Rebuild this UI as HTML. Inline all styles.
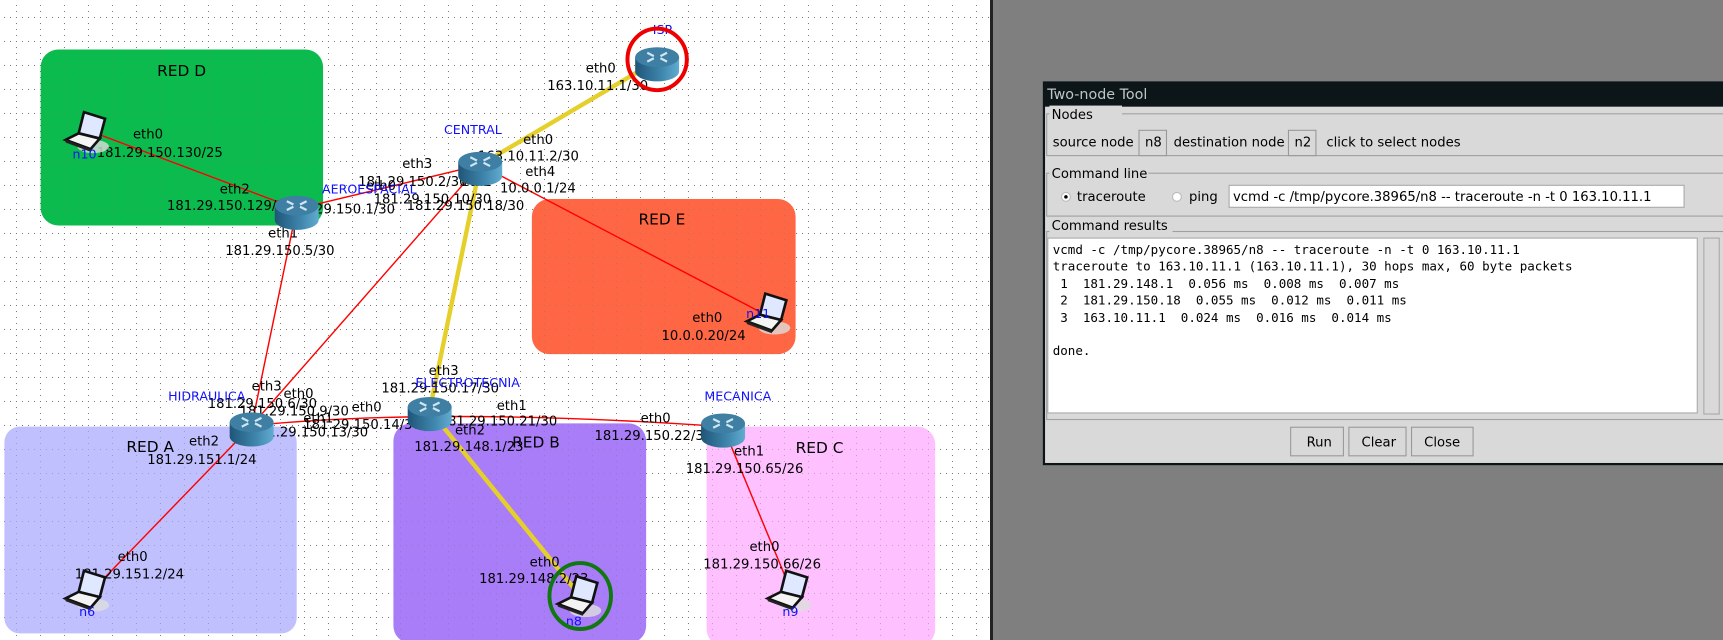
<!DOCTYPE html>
<html><head><meta charset="utf-8"><style>
html,body{margin:0;padding:0;width:1723px;height:640px;overflow:hidden;background:#7f7f7f}
svg{display:block}
.l{font-family:"DejaVu Sans","Liberation Sans",sans-serif;font-size:12px;fill:#000}
.b{font-family:"DejaVu Sans","Liberation Sans",sans-serif;font-size:11.5px;fill:#1010ff}
.r{font-family:"DejaVu Sans","Liberation Sans",sans-serif;font-size:14px;fill:#000}
.d{font-family:"DejaVu Sans","Liberation Sans",sans-serif;font-size:12px;fill:#000}
.m{font-family:"DejaVu Sans Mono","Liberation Mono",monospace;font-size:11.4px;fill:#000;white-space:pre}
</style></head><body>
<svg width="1723" height="640" viewBox="0 0 1723 640" xmlns="http://www.w3.org/2000/svg">
<defs>
<pattern id="g" x="16" y="17" width="24" height="24" patternUnits="userSpaceOnUse">
<line x1="0" y1="0.5" x2="24" y2="0.5" stroke="#777" stroke-width="1" stroke-dasharray="1,5"/>
<line x1="0.5" y1="0" x2="0.5" y2="24" stroke="#777" stroke-width="1" stroke-dasharray="1,5"/>
</pattern>
<linearGradient id="rs" x1="0" x2="1"><stop offset="0" stop-color="#1f5578"/><stop offset="0.6" stop-color="#3f86ad"/><stop offset="1" stop-color="#62acd0"/></linearGradient>
<g id="rt">
<path d="M-20,-5 L-20,8 A20,9 0 0 0 20,8 L20,-5 Z" fill="url(#rs)"/>
<ellipse cx="0" cy="-5" rx="20" ry="9" fill="#3e7fa3"/>
<path d="M-9,-9 L-3,-6 M-9,-1 L-3,-4 M9,-9 L3,-6 M9,-1 L3,-4" stroke="#cfe6f2" stroke-width="2"/>
</g>
<g id="lp" transform="scale(1.2)">
<ellipse cx="4" cy="11" rx="12" ry="5" fill="#ddd" opacity="0.8"/>
<polygon points="-3,-15 13,-10 9,5 -7,1" fill="#dfe8ff" stroke="#111" stroke-width="2"/>
<polygon points="-7,1 9,5 2,13 -17,6" fill="#f4f4f4" stroke="#111" stroke-width="2"/>
<polygon points="-17,6 2,13 2,15 -17,8" fill="#222"/>
</g>
</defs>
<rect x="0" y="0" width="992" height="640" fill="#fff"/>
<rect x="0" y="0" width="990" height="640" fill="url(#g)"/>
<g transform="scale(1.0989,1.0997)">
<rect x="37" y="45" width="257" height="160" rx="16" fill="#0cbb4d"/>
<rect x="484" y="181" width="240" height="141" rx="16" fill="#ff6644"/>
<rect x="4" y="388" width="266" height="188" rx="14" fill="#c0c0ff"/>
<rect x="358" y="385" width="230" height="200" rx="16" fill="#a97cf8"/>
<rect x="643" y="388" width="208" height="200" rx="16" fill="#ffc0ff"/>
</g>
<rect x="0" y="0" width="990" height="640" fill="url(#g)" opacity="0.45"/>
<g transform="scale(1.0989,1.0997)">
<text class="r" x="143" y="69">RED D</text>
<text class="r" x="581" y="204">RED E</text>
<text class="r" x="115" y="411">RED A</text>
<text class="r" x="466" y="407">RED B</text>
<text class="r" x="724" y="412">RED C</text>
<g stroke="#e5cf2a" stroke-width="4">
<line x1="598" y1="55" x2="437" y2="150"/>
<line x1="437" y1="150" x2="391" y2="373"/>
<line x1="391" y1="373" x2="528" y2="542"/>
</g>
<g stroke="#ff0000" stroke-width="1.3" fill="none">
<line x1="84" y1="120" x2="270" y2="190"/>
<line x1="270" y1="190" x2="437" y2="150"/>
<line x1="270" y1="190" x2="229" y2="387"/>
<line x1="229" y1="387" x2="437" y2="150"/>
<path d="M229,387 Q400,370 658,388"/>
<line x1="437" y1="150" x2="700" y2="288"/>
<line x1="229" y1="387" x2="84" y2="537"/>
<line x1="658" y1="388" x2="719" y2="535"/>
</g>
<text class="l" x="121" y="126">eth0</text>
<text class="l" x="88" y="143">181.29.150.130/25</text>
<text class="l" x="200" y="176">eth2</text>
<text class="l" x="152" y="191">181.29.150.129/25</text>
<text class="l" x="244" y="216">eth1</text>
<text class="l" x="205" y="232">181.29.150.5/30</text>
<text class="l" x="260" y="194">181.29.150.1/30</text>
<text class="l" x="476" y="131">eth0</text>
<text class="l" x="435" y="146">163.10.11.2/30</text>
<text class="l" x="366" y="153">eth3</text>
<text class="l" x="326" y="169">181.29.150.2/30</text>
<text class="l" x="420" y="169">eth2</text>
<text class="l" x="478" y="160">eth4</text>
<text class="l" x="455" y="175">10.0.0.1/24</text>
<text class="l" x="340" y="185">181.29.150.10/30</text>
<text class="l" x="370" y="191">181.29.150.18/30</text>
<text class="l" x="333" y="173">eth0</text>
<text class="l" x="533" y="66">eth0</text>
<text class="l" x="498" y="82">163.10.11.1/30</text>
<text class="l" x="630" y="293">eth0</text>
<text class="l" x="602" y="309">10.0.0.20/24</text>
<text class="l" x="390" y="341">eth3</text>
<text class="l" x="347" y="357">181.29.150.17/30</text>
<text class="l" x="229" y="355">eth3</text>
<text class="l" x="258" y="362">eth0</text>
<text class="l" x="189" y="371">181.29.150.6/30</text>
<text class="l" x="218" y="378">181.29.150.9/30</text>
<text class="l" x="320" y="374">eth0</text>
<text class="l" x="276" y="384">eth1</text>
<text class="l" x="276" y="390">181.29.150.14/30</text>
<text class="l" x="228" y="397">181.29.150.13/30</text>
<text class="l" x="452" y="373">eth1</text>
<text class="l" x="400" y="387">181.29.150.21/30</text>
<text class="l" x="414" y="395">eth2</text>
<text class="l" x="377" y="410">181.29.148.1/23</text>
<text class="l" x="583" y="384">eth0</text>
<text class="l" x="541" y="400">181.29.150.22/30</text>
<text class="l" x="172" y="405">eth2</text>
<text class="l" x="134" y="422">181.29.151.1/24</text>
<text class="l" x="668" y="414">eth1</text>
<text class="l" x="624" y="430">181.29.150.65/26</text>
<text class="l" x="107" y="510">eth0</text>
<text class="l" x="68" y="526">181.29.151.2/24</text>
<text class="l" x="482" y="515">eth0</text>
<text class="l" x="436" y="530">181.29.148.2/23</text>
<text class="l" x="682" y="501">eth0</text>
<text class="l" x="640" y="517">181.29.150.66/26</text>
<use href="#rt" x="598" y="57"/>
<use href="#rt" x="437" y="152"/>
<use href="#rt" x="270" y="192"/>
<use href="#rt" x="229" y="389"/>
<use href="#rt" x="391" y="375"/>
<use href="#rt" x="658" y="390"/>
<use href="#lp" x="80" y="120"/>
<use href="#lp" x="700" y="285"/>
<use href="#lp" x="80" y="537"/>
<use href="#lp" x="528" y="542"/>
<use href="#lp" x="719" y="537"/>
<text class="b" x="594" y="31">ISP</text>
<text class="b" x="404" y="122">CENTRAL</text>
<text class="b" x="293" y="176">AEROESPACIAL</text>
<text class="b" x="153" y="364">HIDRAULICA</text>
<text class="b" x="378" y="352">ELECTROTECNIA</text>
<text class="b" x="641" y="364">MECANICA</text>
<text class="b" x="66" y="144">n10</text>
<text class="b" x="679" y="289">n11</text>
<text class="b" x="72" y="560">n6</text>
<text class="b" x="515" y="569">n8</text>
<text class="b" x="712" y="560">n9</text>
<ellipse cx="598" cy="54" rx="27" ry="28" fill="none" stroke="#ee0000" stroke-width="3.6"/>
<ellipse cx="528" cy="542" rx="28" ry="30" fill="none" stroke="#117711" stroke-width="3.6"/>
</g>
<rect x="990" y="0" width="3" height="640" fill="#222"/>
<g transform="scale(1.0989,1.0997)">
<rect x="949" y="74" width="620" height="349" fill="#0c1518"/>
<rect x="951" y="97" width="617" height="324" fill="#d9d9d9"/>
<text x="953" y="90" font-family="DejaVu Sans,Liberation Sans,sans-serif" font-size="13" fill="#bfc4c6">Two-node Tool</text>
<g stroke="#a0a0a0" fill="none"><rect x="952.5" y="103.5" width="620" height="38"/><rect x="952.5" y="157.5" width="620" height="39"/><rect x="952.5" y="210.5" width="620" height="171"/></g>
<g fill="#d9d9d9"><rect x="955" y="96" width="66" height="14"/><rect x="955" y="150" width="90" height="14"/><rect x="955" y="203" width="112" height="14"/></g>
<text class="d" x="957" y="108">Nodes</text>
<text class="d" x="957" y="162">Command line</text>
<text class="d" x="957" y="209">Command results</text>
<text class="d" x="958" y="133">source node</text>
<rect x="1036.5" y="118.5" width="25" height="23" fill="#d9d9d9" stroke="#999"/>
<text class="d" x="1042" y="133">n8</text>
<text class="d" x="1068" y="133">destination node</text>
<rect x="1172.5" y="118.5" width="25" height="23" fill="#d9d9d9" stroke="#999"/>
<text class="d" x="1178" y="133">n2</text>
<text class="d" x="1207" y="133">click to select nodes</text>
<circle cx="970" cy="179" r="4" fill="#fff" stroke="#bbb"/><circle cx="970" cy="179" r="1.6" fill="#000"/>
<text class="d" x="980" y="183">traceroute</text>
<circle cx="1071" cy="179" r="4" fill="#fff" stroke="#bbb"/>
<text class="d" x="1082" y="183">ping</text>
<rect x="1118.5" y="168.5" width="414" height="20" fill="#fff" stroke="#aaa"/>
<text class="d" x="1122" y="183">vcmd -c /tmp/pycore.38965/n8 -- traceroute -n -t 0 163.10.11.1</text>
<rect x="953.5" y="216.5" width="591" height="159" fill="#fff" stroke="#aaa"/>
<rect x="1550.5" y="216.5" width="14" height="160" fill="#d9d9d9" stroke="#aaa"/>
<text class="m" x="958" y="231">vcmd -c /tmp/pycore.38965/n8 -- traceroute -n -t 0 163.10.11.1</text>
<text class="m" x="958" y="246">traceroute to 163.10.11.1 (163.10.11.1), 30 hops max, 60 byte packets</text>
<text class="m" x="958" y="262"> 1  181.29.148.1  0.056 ms  0.008 ms  0.007 ms</text>
<text class="m" x="958" y="277"> 2  181.29.150.18  0.055 ms  0.012 ms  0.011 ms</text>
<text class="m" x="958" y="293"> 3  163.10.11.1  0.024 ms  0.016 ms  0.014 ms</text>
<text class="m" x="958" y="323">done.</text>
<rect x="1174.5" y="388.5" width="48" height="26" fill="#d9d9d9" stroke="#999"/>
<text class="d" x="1189" y="406">Run</text>
<rect x="1227.5" y="388.5" width="52" height="26" fill="#d9d9d9" stroke="#999"/>
<text class="d" x="1239" y="406">Clear</text>
<rect x="1284.5" y="388.5" width="56" height="26" fill="#d9d9d9" stroke="#999"/>
<text class="d" x="1296" y="406">Close</text>
</g>
</svg>
</body></html>
